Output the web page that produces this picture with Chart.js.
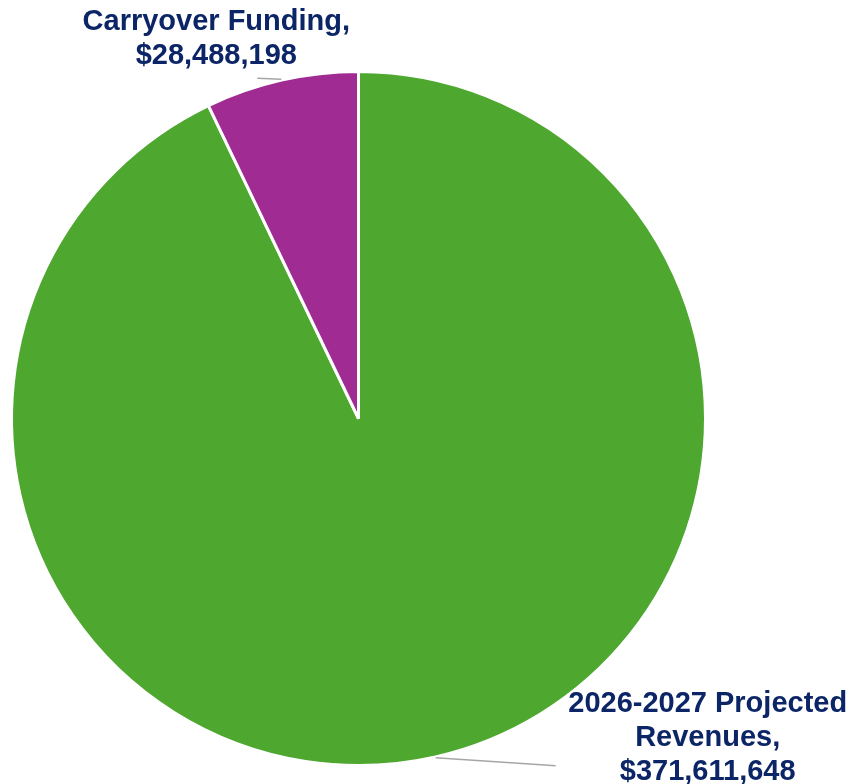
<!DOCTYPE html>
<html>
<head>
<meta charset="utf-8">
<script src="https://cdn.jsdelivr.net/npm/chart.js@4.4.1/dist/chart.umd.min.js"></script>
<style>
  html, body { margin: 0; padding: 0; background: #ffffff; }
  #wrap { width: 854px; height: 784px; position: relative; }
</style>
</head>
<body>
<div id="wrap"><canvas id="pie" width="854" height="784"></canvas></div>
<script>
// Funding sources
const categories = ['2026-2027 Projected Revenues', 'Carryover Funding'];
const amounts = [371611648, 28488198];
const labelLines = [
  ['2026-2027 Projected', 'Revenues,', '$371,611,648'],
  ['Carryover Funding,', '$28,488,198']
];
const sliceColors = ['#4EA72E', '#A02B93'];

// Leader line + text placement for each slice, relative to the slice's outer mid point
const labelPlacement = [
  { lineDx: 120, lineDy: 8, textDx: 152, firstBaselineDy: -54, align: 'center' },
  { lineDx: -24, lineDy: -1, textDx: -41, lastBaselineDy: -14, align: 'center' }
];

const calloutPlugin = {
  id: 'callouts',
  afterDatasetsDraw(chart) {
    const ctx = chart.ctx;
    const meta = chart.getDatasetMeta(0);
    const fontSize = 29, lineH = 34;
    meta.data.forEach((arc, i) => {
      const p = arc.getProps(['x', 'y', 'startAngle', 'endAngle', 'outerRadius'], true);
      const mid = (p.startAngle + p.endAngle) / 2;
      const r = p.outerRadius + 1;
      const sx = p.x + Math.cos(mid) * r;
      const sy = p.y + Math.sin(mid) * r;
      const pl = labelPlacement[i];
      const ex = sx + pl.lineDx;
      const ey = sy + pl.lineDy;
      ctx.save();
      ctx.strokeStyle = '#A6A6A6';
      ctx.lineWidth = 1.5;
      ctx.beginPath();
      ctx.moveTo(sx, sy);
      ctx.lineTo(ex, ey);
      ctx.stroke();

      ctx.fillStyle = '#0B2566';
      ctx.font = 'bold ' + fontSize + 'px "Liberation Sans", Arial, sans-serif';
      ctx.textAlign = pl.align;
      ctx.textBaseline = 'alphabetic';
      const lines = labelLines[i];
      const cx = ex + pl.textDx;
      let firstY;
      if (pl.firstBaselineDy !== undefined) {
        firstY = ey + pl.firstBaselineDy;
      } else {
        firstY = ey + pl.lastBaselineDy - (lines.length - 1) * lineH;
      }
      lines.forEach((t, k) => ctx.fillText(t, cx, firstY + k * lineH));
      ctx.restore();
    });
  }
};

new Chart(document.getElementById('pie'), {
  type: 'pie',
  data: {
    labels: categories,
    datasets: [{
      data: amounts,
      backgroundColor: sliceColors,
      borderColor: '#ffffff',
      borderWidth: 3
    }]
  },
  options: {
    responsive: false,
    animation: false,
    devicePixelRatio: 1,
    rotation: 0,
    layout: { padding: { left: 10, top: 70, right: 147, bottom: 17 } },
    plugins: {
      legend: { display: false },
      tooltip: { enabled: false },
      title: { display: false }
    }
  },
  plugins: [calloutPlugin]
});
</script>
</body>
</html>
